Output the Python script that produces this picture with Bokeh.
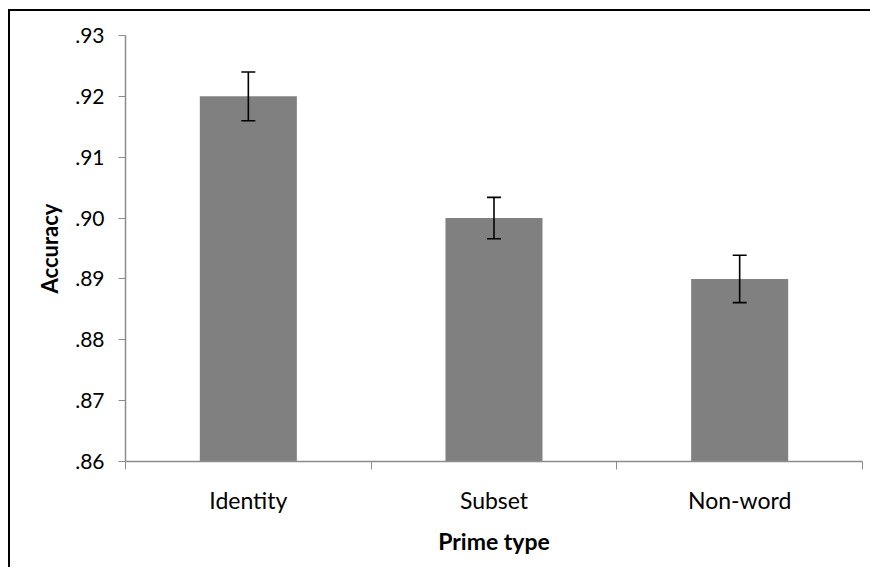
from bokeh.plotting import figure
from bokeh.models import Range1d, FixedTicker, ColumnDataSource, Whisker, TeeHead
from bokeh.embed import file_html
from bokeh.resources import INLINE

categories = ["Identity", "Subset", "Non-word"]
accuracy = [0.920, 0.900, 0.890]
err = [0.004, 0.0034, 0.0039]
y_ticks = [0.86, 0.87, 0.88, 0.89, 0.90, 0.91, 0.92, 0.93]
y_tick_labels = [".86", ".87", ".88", ".89", ".90", ".91", ".92", ".93"]

xs = [i + 0.5 for i in range(len(categories))]
src = ColumnDataSource(dict(
    x=xs, y=accuracy,
    upper=[a + e for a, e in zip(accuracy, err)],
    lower=[a - e for a, e in zip(accuracy, err)],
))

FONT = "Lato"
AXIS_COLOR = "#8c8c8c"

p = figure(width=862, height=558, output_backend="svg", toolbar_location=None,
           x_range=Range1d(0, len(categories)), y_range=Range1d(y_ticks[0], y_ticks[-1]),
           min_border_left=115, min_border_right=10, min_border_top=24, min_border_bottom=108)
p.styles = {"border-top": "2px solid black", "border-left": "2px solid black",
            "margin-left": "8px", "margin-top": "9px"}
p.outline_line_color = None
p.xgrid.visible = False
p.ygrid.visible = False

p.vbar(x="x", top="y", bottom=y_ticks[0], width=0.395, source=src,
       fill_color="#808080", line_color=None)
p.add_layout(Whisker(base="x", upper="upper", lower="lower", source=src, level="overlay",
                     line_color="black", line_width=1.6,
                     upper_head=TeeHead(size=14, line_color="black", line_width=1.6),
                     lower_head=TeeHead(size=14, line_color="black", line_width=1.6)))

# x axis
p.xaxis.ticker = FixedTicker(ticks=xs, minor_ticks=list(range(len(categories) + 1)))
p.xaxis.major_label_overrides = {x: c for x, c in zip(xs, categories)}
p.xaxis.major_tick_line_color = None
p.xaxis.major_tick_out = 0
p.xaxis.major_tick_in = 0
p.xaxis.minor_tick_line_color = AXIS_COLOR
p.xaxis.minor_tick_out = 8
p.xaxis.minor_tick_in = 0
p.xaxis.axis_line_color = AXIS_COLOR
p.xaxis.axis_line_width = 1.5
p.xaxis.major_label_text_font = FONT
p.xaxis.major_label_text_font_size = "23px"
p.xaxis.major_label_text_color = "black"
p.xaxis.major_label_standoff = 16
p.xaxis.axis_label = "Prime type"
p.xaxis.axis_label_text_font = FONT
p.xaxis.axis_label_text_font_size = "23px"
p.xaxis.axis_label_text_font_style = "bold"
p.xaxis.axis_label_text_color = "black"
p.xaxis.axis_label_standoff = 10

# y axis
p.yaxis.ticker = FixedTicker(ticks=y_ticks)
p.yaxis.major_label_overrides = {t: l for t, l in zip(y_ticks, y_tick_labels)}
p.yaxis.minor_tick_line_color = None
p.yaxis.major_tick_line_color = AXIS_COLOR
p.yaxis.major_tick_out = 7
p.yaxis.major_tick_in = 0
p.yaxis.axis_line_color = AXIS_COLOR
p.yaxis.axis_line_width = 1.5
p.yaxis.major_label_text_font = FONT
p.yaxis.major_label_text_font_size = "21px"
p.yaxis.major_label_text_color = "black"
p.yaxis.major_label_standoff = 14
p.yaxis.axis_label = "Accuracy"
p.yaxis.axis_label_text_font = FONT
p.yaxis.axis_label_text_font_size = "22px"
p.yaxis.axis_label_text_font_style = "bold"
p.yaxis.axis_label_text_color = "black"
p.yaxis.axis_label_standoff = 9

open("out.html", "w").write(file_html(p, INLINE))
